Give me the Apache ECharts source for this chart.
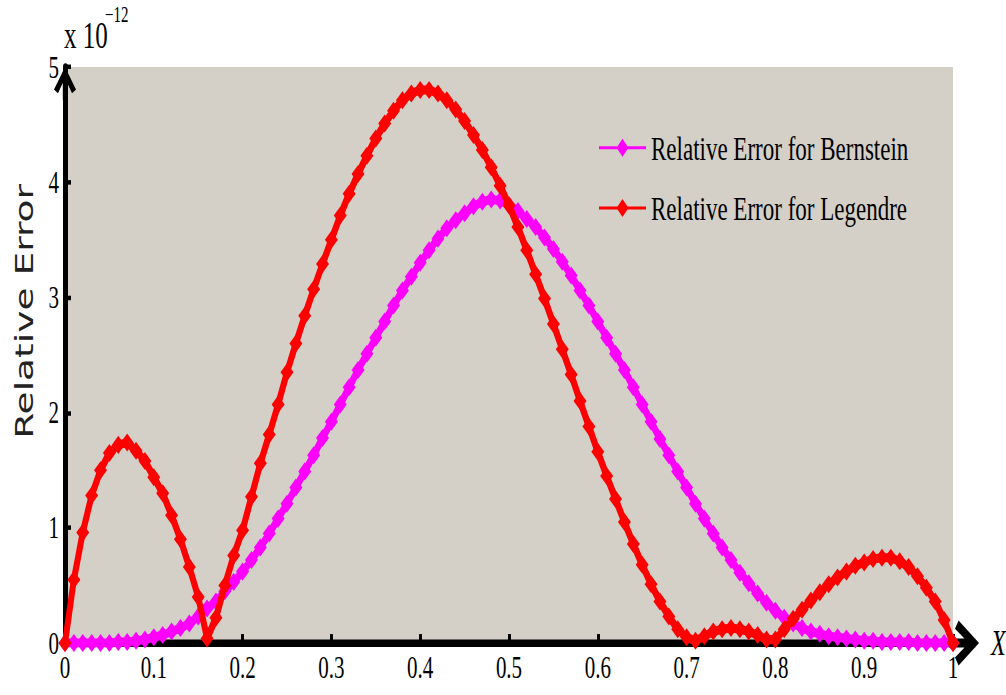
<!DOCTYPE html>
<html>
<head>
<meta charset="utf-8">
<script src="https://cdn.jsdelivr.net/npm/echarts@6/dist/echarts.min.js"></script>
<style>
  html, body { margin: 0; padding: 0; background: #ffffff; }
  #wrap { width: 1006px; height: 695px; overflow: hidden; background: #ffffff; }
  /* the figure is laid out at a reduced height and stretched vertically */
  #chart { width: 1006px; height: 463px; transform-origin: 0 0; }
</style>
</head>
<body>
<div id="wrap"><div id="chart"></div></div>
<script>
// sample points on [0, 1]
const xs = [0.00,0.01,0.02,0.03,0.04,0.05,0.06,0.07,0.08,0.09,
            0.10,0.11,0.12,0.13,0.14,0.15,0.16,0.17,0.18,0.19,
            0.20,0.21,0.22,0.23,0.24,0.25,0.26,0.27,0.28,0.29,
            0.30,0.31,0.32,0.33,0.34,0.35,0.36,0.37,0.38,0.39,
            0.40,0.41,0.42,0.43,0.44,0.45,0.46,0.47,0.48,0.49,
            0.50,0.51,0.52,0.53,0.54,0.55,0.56,0.57,0.58,0.59,
            0.60,0.61,0.62,0.63,0.64,0.65,0.66,0.67,0.68,0.69,
            0.70,0.71,0.72,0.73,0.74,0.75,0.76,0.77,0.78,0.79,
            0.80,0.81,0.82,0.83,0.84,0.85,0.86,0.87,0.88,0.89,
            0.90,0.91,0.92,0.93,0.94,0.95,0.96,0.97,0.98,0.99,1.00];

// relative error (units of 1e-12), Bernstein basis
const bernstein = [0.00,0.00,0.00,0.00,0.00,0.00,0.01,0.01,0.02,0.03,
                   0.05,0.07,0.10,0.13,0.17,0.23,0.30,0.36,0.45,0.53,
                   0.62,0.72,0.83,0.95,1.08,1.21,1.35,1.49,1.63,1.78,
                   1.92,2.07,2.22,2.37,2.51,2.65,2.79,2.93,3.06,3.18,
                   3.30,3.41,3.51,3.60,3.67,3.73,3.79,3.83,3.85,3.84,
                   3.80,3.75,3.68,3.61,3.52,3.42,3.31,3.19,3.06,2.93,
                   2.79,2.65,2.51,2.37,2.22,2.07,1.92,1.77,1.63,1.49,
                   1.35,1.21,1.08,0.95,0.83,0.72,0.61,0.52,0.43,0.35,
                   0.28,0.22,0.17,0.13,0.10,0.08,0.06,0.05,0.04,0.03,
                   0.02,0.02,0.01,0.01,0.01,0.01,0.00,0.00,0.00,0.00,0.00];

// relative error (units of 1e-12), Legendre basis
const legendre = [0.00,0.55,0.96,1.28,1.50,1.65,1.72,1.74,1.67,1.58,
                  1.44,1.30,1.11,0.90,0.66,0.40,0.04,0.22,0.50,0.76,
                  0.98,1.27,1.56,1.81,2.07,2.35,2.60,2.84,3.07,3.29,
                  3.50,3.71,3.90,4.07,4.23,4.38,4.51,4.62,4.71,4.77,
                  4.80,4.80,4.77,4.71,4.63,4.53,4.41,4.28,4.13,3.97,
                  3.80,3.61,3.41,3.20,2.99,2.77,2.55,2.33,2.10,1.88,
                  1.66,1.45,1.25,1.05,0.86,0.68,0.51,0.36,0.23,0.12,
                  0.05,0.02,0.06,0.10,0.12,0.13,0.12,0.10,0.07,0.03,
                  0.03,0.12,0.21,0.29,0.37,0.44,0.51,0.57,0.62,0.67,
                  0.70,0.73,0.74,0.74,0.71,0.66,0.58,0.48,0.36,0.20,0.00];

const seriesNames = ['Relative Error for Bernstein', 'Relative Error for Legendre'];
const yTickLabels = ['0', '1', '2', '3', '4', '5'];
const xTickLabels = ['0', '0.1', '0.2', '0.3', '0.4', '0.5', '0.6', '0.7', '0.8', '0.9', '1'];

const STRETCH = 695 / 463;
const chartEl = document.getElementById('chart');
chartEl.style.transform = 'scaleY(' + STRETCH + ')';

const pairs = (ys) => xs.map((x, i) => [x, ys[i]]);

// chevron arrow head with a short shaft, pointing up in its own box
const arrowPath = 'path://M50,0 L100,68 L82,80 L50,34 L18,80 L0,68 Z M40,12 L60,12 L60,100 L40,100 Z';

const serif = 'Liberation Serif, Times New Roman, serif';

const chart = echarts.init(chartEl, null, { renderer: 'svg' });
chart.setOption({
  animation: false,
  backgroundColor: '#ffffff',
  title: [
    { text: 'x 10', left: 64, top: 11, padding: 0,
      textStyle: { fontFamily: serif, fontSize: 25, lineHeight: 25, fontWeight: 'normal', color: '#000' } },
    { text: '\u221212', left: 105, top: 2, padding: 0,
      textStyle: { fontFamily: serif, fontSize: 15, lineHeight: 15, fontWeight: 'normal', color: '#000' } }
  ],
  legend: {
    orient: 'vertical',
    left: 598,
    top: 87,
    padding: 0,
    itemGap: 17,
    itemWidth: 47,
    itemHeight: 15,
    data: seriesNames,
    textStyle: { fontFamily: serif, fontSize: 23, color: '#000' }
  },
  grid: {
    left: 65,
    right: 53,
    top: 44.6,
    bottom: 34.6,
    show: true,
    backgroundColor: '#d4d0c8',
    borderWidth: 0,
    containLabel: false,
    outerBoundsMode: 'none'
  },
  xAxis: {
    type: 'value',
    min: 0,
    max: 1,
    interval: 0.1,
    name: 'X',
    nameLocation: 'end',
    nameGap: 38,
    nameTextStyle: { fontFamily: serif, fontStyle: 'italic', fontSize: 24, color: '#000', padding: [28, 0, 0, 0] },
    axisLine: {
      show: true, onZero: false,
      symbol: ['none', arrowPath],
      symbolSize: [30, 32],
      symbolOffset: [0, 11],
      lineStyle: { color: '#000', width: 5 }
    },
    axisTick: { show: true, inside: true, length: 6, lineStyle: { color: '#000', width: 3 } },
    axisLabel: {
      margin: 6,
      fontFamily: serif, fontSize: 21, color: '#000',
      showMinLabel: true, showMaxLabel: true,
      formatter: (v) => xTickLabels[Math.round(v * 10)]
    },
    splitLine: { show: false }
  },
  yAxis: {
    type: 'value',
    min: 0,
    max: 5,
    interval: 1,
    name: 'Relative Error',
    nameLocation: 'middle',
    nameRotate: 90,
    nameGap: 28,
    nameTextStyle: { fontFamily: 'DejaVu Sans, sans-serif', fontSize: 25, color: '#222', padding: [0, 0, 0, 58] },
    axisLine: {
      show: true, onZero: false,
      symbol: ['none', arrowPath],
      symbolSize: [22, 35],
      symbolOffset: [0, -11],
      lineStyle: { color: '#000', width: 5 }
    },
    axisTick: { show: true, inside: true, length: 6, lineStyle: { color: '#000', width: 3 } },
    axisLabel: {
      margin: 6,
      fontFamily: serif, fontSize: 21, color: '#000',
      showMinLabel: true, showMaxLabel: true,
      formatter: (v) => yTickLabels[Math.round(v)]
    },
    splitLine: { show: false }
  },
  series: [
    {
      name: seriesNames[0],
      type: 'line',
      data: pairs(bernstein),
      symbol: 'diamond',
      symbolSize: [13, 12],
      showAllSymbol: true,
      color: '#ff00ff',
      lineStyle: { color: '#ff00ff', width: 6 },
      itemStyle: { color: '#ff00ff' },
      z: 2
    },
    {
      name: seriesNames[1],
      type: 'line',
      data: pairs(legendre),
      symbol: 'diamond',
      symbolSize: [13, 12],
      showAllSymbol: true,
      color: '#ff0000',
      lineStyle: { color: '#ff0000', width: 6 },
      itemStyle: { color: '#ff0000' },
      z: 3
    }
  ]
});
</script>
</body>
</html>
